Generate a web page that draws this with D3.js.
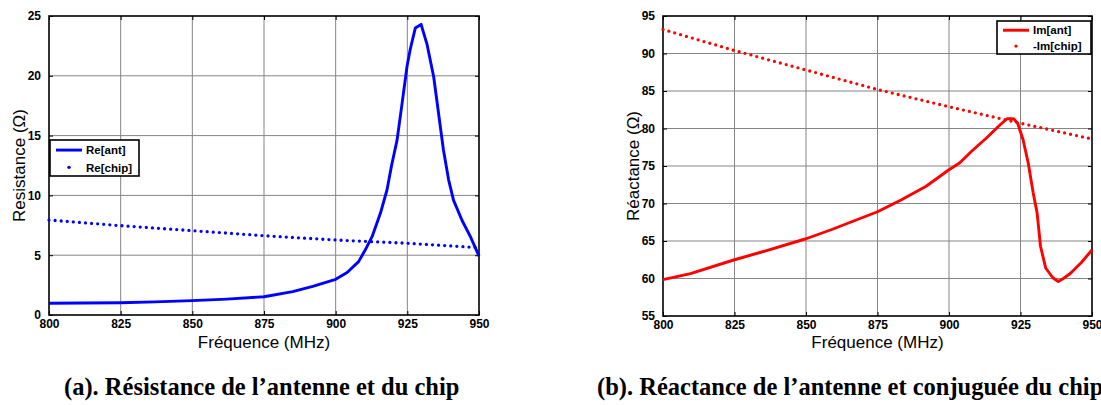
<!DOCTYPE html>
<html><head><meta charset="utf-8">
<script src="https://cdn.jsdelivr.net/npm/d3@7"></script>
<style>
html,body{margin:0;padding:0;background:#fff;}
svg{display:block;}
</style></head>
<body>
<svg id="c" width="1101" height="405"></svg>
<script>
// ---- data ----
const xTicks = [800, 825, 850, 875, 900, 925, 950];
const yTicksA = [0, 5, 10, 15, 20, 25];
const yTicksB = [55, 60, 65, 70, 75, 80, 85, 90, 95];

const reAntFreq = [800, 812, 825, 837, 850, 862, 875, 885, 892, 900, 904, 908, 910.3, 912.7, 915.6, 917.9, 919.5, 921.4, 923, 924.9, 926, 927.8, 929.8, 931.9, 934.2, 937.6, 939.4, 941.1, 944.1, 947, 950];
const reAnt     = [0.98, 1.0, 1.03, 1.1, 1.2, 1.33, 1.53, 1.95, 2.4, 2.98, 3.55, 4.46, 5.43, 6.55, 8.5, 10.45, 12.5, 14.6, 17.4, 20.8, 22.2, 24.0, 24.3, 22.6, 19.9, 13.8, 11.3, 9.6, 7.9, 6.55, 4.93];

const chipFreq = [800, 825, 850, 875, 900, 925, 950];
const reChip   = [7.94, 7.47, 7.05, 6.63, 6.27, 6.0, 5.63];
const imChipNeg = [93.2, 90.4, 87.8, 85.2, 82.9, 80.7, 78.6];

const imAntFreq = [800, 809.6, 825, 834.2, 850, 858.8, 875, 883.4, 892, 900, 903.7, 908, 913, 917.9, 920.3, 922.6, 924, 925.9, 927.7, 929.4, 930.8, 932, 933.8, 936.3, 938.2, 940, 942.5, 946.2, 950];
const imAnt     = [59.85, 60.65, 62.5, 63.5, 65.3, 66.5, 68.9, 70.5, 72.3, 74.5, 75.4, 77.0, 78.7, 80.5, 81.3, 81.3, 80.7, 78.5, 75.4, 71.5, 68.75, 64.3, 61.4, 60.1, 59.6, 60.0, 60.7, 62.1, 63.8];

const xLabel = "Fréquence (MHz)";
const yLabelA = "Resistance (Ω)";
const yLabelB = "Réactance (Ω)";
const legendA = ["Re[ant]", "Re[chip]"];
const legendB = ["Im[ant]", "-Im[chip]"];
const captionA = "(a). Résistance de l’antenne et du chip";
const captionB = "(b). Réactance de l’antenne et conjuguée du chip";

// ---- drawing ----
const svg = d3.select("#c");
const SANS = "'Liberation Sans', Arial, sans-serif";
const SERIF = "'Liberation Serif', 'Times New Roman', serif";

function panel(opt) {
  const x = d3.scaleLinear().domain([800, 950]).range([opt.x0, opt.x1]);
  const y = d3.scaleLinear().domain(opt.yDomain).range([opt.y0, opt.y1]);
  const g = svg.append("g");

  // grid
  g.append("g").selectAll("line").data(xTicks.slice(1, -1)).join("line")
    .attr("x1", d => x(d)).attr("x2", d => x(d))
    .attr("y1", opt.y0).attr("y2", opt.y1)
    .attr("stroke", "#858585").attr("stroke-width", 1);
  g.append("g").selectAll("line").data(opt.yTicks.slice(1, -1)).join("line")
    .attr("y1", d => y(d)).attr("y2", d => y(d))
    .attr("x1", opt.x0).attr("x2", opt.x1)
    .attr("stroke", "#858585").attr("stroke-width", 1);

  // axes with inward ticks
  const ax = g.append("g").attr("transform", `translate(0,${opt.y0})`)
    .call(d3.axisBottom(x).tickValues(xTicks).tickSize(-4).tickPadding(7).tickFormat(d3.format("d")));
  const axT = g.append("g").attr("transform", `translate(0,${opt.y1})`)
    .call(d3.axisTop(x).tickValues(xTicks).tickSize(-4).tickFormat(""));
  const ay = g.append("g").attr("transform", `translate(${opt.x0},0)`)
    .call(d3.axisLeft(y).tickValues(opt.yTicks).tickSize(-4).tickPadding(8).tickFormat(d3.format("d")));
  const ayR = g.append("g").attr("transform", `translate(${opt.x1},0)`)
    .call(d3.axisRight(y).tickValues(opt.yTicks).tickSize(-4).tickFormat(""));
  [ax, axT, ay, ayR].forEach(a => {
    a.select(".domain").remove();
    a.selectAll(".tick line").attr("stroke", "#000").attr("stroke-width", 1);
    a.selectAll("text").attr("font-family", SANS).attr("font-weight", "bold")
      .attr("font-size", 12).attr("fill", "#000");
  });
  ax.selectAll("text").attr("dy", "0.5em");

  // frame
  g.append("rect").attr("x", opt.x0).attr("y", opt.y1)
    .attr("width", opt.x1 - opt.x0).attr("height", opt.y0 - opt.y1)
    .attr("fill", "none").attr("stroke", "#000").attr("stroke-width", 1.6);

  // series
  const clipId = "clip" + opt.id;
  svg.append("clipPath").attr("id", clipId).append("rect")
    .attr("x", opt.x0 - 2).attr("y", opt.y1 - 2)
    .attr("width", opt.x1 - opt.x0 + 6).attr("height", opt.y0 - opt.y1 + 4);
  const line = d3.line().x(d => x(d[0])).y(d => y(d[1]));
  g.append("path").datum(d3.zip(chipFreq, opt.chip))
    .attr("d", line).attr("fill", "none").attr("stroke", opt.color)
    .attr("stroke-width", 3.3).attr("stroke-linecap", "round")
    .attr("stroke-dasharray", "0 6.1").attr("clip-path", `url(#${clipId})`);
  g.append("path").datum(d3.zip(opt.antF, opt.ant))
    .attr("d", line).attr("fill", "none").attr("stroke", opt.color)
    .attr("stroke-width", 2.9).attr("stroke-linejoin", "round")
    .attr("clip-path", `url(#${clipId})`);

  // labels
  g.append("text").attr("x", (opt.x0 + opt.x1) / 2).attr("y", 348)
    .attr("text-anchor", "middle").attr("font-family", SANS).attr("font-size", 17)
    .text(xLabel);
  g.append("text").attr("transform", `translate(${opt.x0 - 24},${(opt.y0 + opt.y1) / 2}) rotate(-90)`)
    .attr("text-anchor", "middle").attr("font-family", SANS).attr("font-size", 17)
    .text(opt.yLabel);

  // legend
  const L = opt.legend;
  const lg = g.append("g");
  lg.append("rect").attr("x", L.x).attr("y", L.y).attr("width", L.w).attr("height", L.h)
    .attr("fill", "#fff").attr("stroke", "#000").attr("stroke-width", 1.6);
  const r1 = L.y + L.h * 0.28, r2 = L.y + L.h * 0.76;
  lg.append("line").attr("x1", L.x + 6).attr("x2", L.x + 32).attr("y1", r1).attr("y2", r1)
    .attr("stroke", opt.color).attr("stroke-width", 2.9);
  lg.append("circle").attr("cx", L.x + 19).attr("cy", r2).attr("r", 1.7).attr("fill", opt.color);
  lg.selectAll("text").data(opt.legendText).join("text")
    .attr("x", L.x + 36).attr("y", (d, i) => i === 0 ? r1 : r2).attr("dy", "0.36em")
    .attr("font-family", SANS).attr("font-weight", "bold").attr("font-size", 11.5)
    .text(d => d);

  // caption
  svg.append("text").attr("x", opt.capX).attr("y", 395)
    .attr("font-family", SERIF).attr("font-weight", "bold").attr("font-size", 24.5)
    .text(opt.caption);
}

panel({id: "a", x0: 49, x1: 479, y0: 315, y1: 16, yDomain: [0, 25], yTicks: yTicksA,
  antF: reAntFreq, ant: reAnt, chip: reChip, color: "#0000ff", yLabel: yLabelA,
  legend: {x: 50, y: 140, w: 89, h: 36}, legendText: legendA, caption: captionA, capX: 64});
panel({id: "b", x0: 663, x1: 1092, y0: 316, y1: 16, yDomain: [55, 95], yTicks: yTicksB,
  antF: imAntFreq, ant: imAnt, chip: imChipNeg, color: "#ff0000", yLabel: yLabelB,
  legend: {x: 997, y: 21, w: 94, h: 33}, legendText: legendB, caption: captionB, capX: 597});
</script>
</body></html>
